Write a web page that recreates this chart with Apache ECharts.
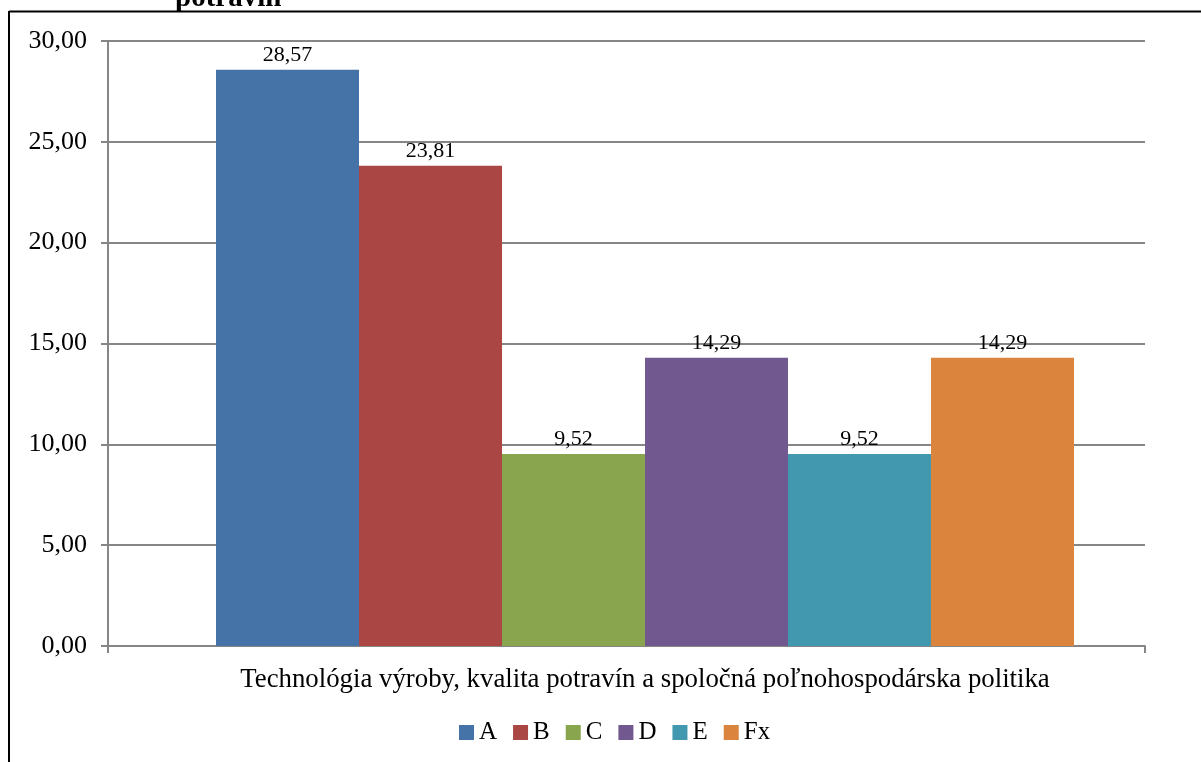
<!DOCTYPE html>
<html>
<head>
<meta charset="utf-8">
<script src="https://cdn.jsdelivr.net/npm/echarts@6/dist/echarts.min.js"></script>
<style>
  html, body { margin: 0; padding: 0; background: #fff; }
  #chart { width: 1201px; height: 762px; }
</style>
</head>
<body>
<div id="chart"></div>
<script>
// category and series values
const categories = ['Technológia výroby, kvalita potravín a spoločná poľnohospodárska politika'];
const seriesNames = ['A', 'B', 'C', 'D', 'E', 'Fx'];
const seriesValues = [28.57, 23.81, 9.52, 14.29, 9.52, 14.29];
const seriesColors = ['#4572A7', '#AA4643', '#89A54E', '#71588F', '#4198AF', '#DB843D'];

const fmt = (v) => v.toFixed(2).replace('.', ',');
const serif = '"Liberation Serif", "Times New Roman", serif';
const gray = '#868686';

const chart = echarts.init(document.getElementById('chart'));

const option = {
  animation: false,
  textStyle: { fontFamily: serif, color: '#000' },
  graphic: [
    // cut-off second line of the title
    {
      type: 'text',
      left: 175,
      top: -16,
      style: { text: 'potravín', font: 'bold 29px ' + serif, fill: '#000' }
    },
    // frame edges (only top and left are visible)
    {
      type: 'line',
      shape: { x1: 9, y1: 11.5, x2: 1201, y2: 11.5 },
      style: { stroke: '#000', lineWidth: 2 }
    },
    {
      type: 'line',
      shape: { x1: 9, y1: 11, x2: 9, y2: 762 },
      style: { stroke: '#000', lineWidth: 2 }
    }
  ],
  // grid 0: axes and gridlines, grid 1: bars (Excel centres them a bit to the right)
  grid: [
    { left: 108, right: 56, top: 41, bottom: 116 },
    { left: 145, right: 56, top: 41, bottom: 116 }
  ],
  legend: {
    left: 459,
    top: 720,
    padding: 0,
    itemWidth: 15,
    itemHeight: 15,
    itemGap: 16,
    icon: 'rect',
    textStyle: { fontFamily: serif, fontSize: 25, color: '#000' },
    data: seriesNames
  },
  xAxis: [
    {
      type: 'category',
      gridIndex: 0,
      data: categories,
      axisLine: { lineStyle: { color: gray, width: 2 } },
      axisTick: { show: true, length: 7, lineStyle: { color: gray, width: 2 } },
      axisLabel: { show: false }
    },
    {
      type: 'category',
      gridIndex: 1,
      data: categories,
      axisLine: { show: false },
      axisTick: { show: false },
      axisLabel: { fontSize: 26.8, color: '#000', margin: 20, fontFamily: serif }
    }
  ],
  yAxis: [
    {
      type: 'value',
      gridIndex: 0,
      min: 0,
      max: 30,
      interval: 5,
      axisLine: { show: true, lineStyle: { color: gray, width: 2 } },
      axisTick: { show: true, length: 7, lineStyle: { color: gray, width: 2 } },
      splitLine: { lineStyle: { color: gray, width: 2 } },
      axisLabel: { fontSize: 26, color: '#000', margin: 21, fontFamily: serif, formatter: fmt }
    },
    {
      type: 'value',
      gridIndex: 1,
      min: 0,
      max: 30,
      interval: 5,
      show: false,
      splitLine: { show: false }
    }
  ],
  series: seriesNames.map((name, i) => ({
    name: name,
    type: 'bar',
    xAxisIndex: 1,
    yAxisIndex: 1,
    data: [seriesValues[i]],
    barWidth: 143,
    barGap: '0%',
    itemStyle: { color: seriesColors[i] },
    label: {
      show: true,
      position: 'top',
      distance: 4,
      fontSize: 22,
      color: '#000',
      fontFamily: serif,
      formatter: (p) => fmt(p.value)
    }
  }))
};

chart.setOption(option);
</script>
</body>
</html>
